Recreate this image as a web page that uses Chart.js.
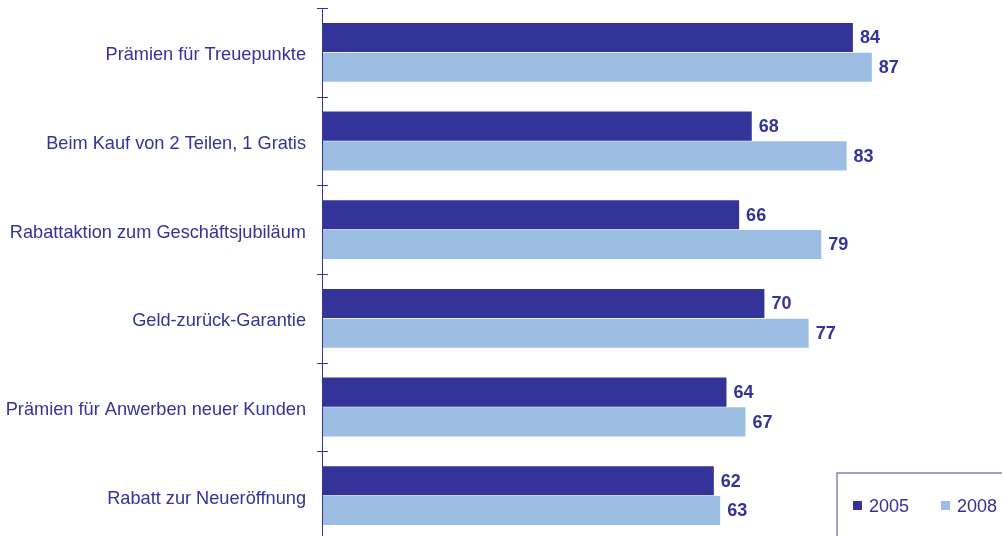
<!DOCTYPE html>
<html>
<head>
<meta charset="utf-8">
<script src="https://cdn.jsdelivr.net/npm/chart.js@4/dist/chart.umd.min.js"></script>
<style>
html,body{margin:0;padding:0;background:#fff;overflow:hidden;}
#wrap{position:relative;width:1002px;height:536px;overflow:hidden;}
#c{display:block;}
</style>
</head>
<body>
<div id="wrap"><canvas id="c" width="1002" height="540"></canvas></div>
<script>
const categories = [
  "Prämien für Treuepunkte",
  "Beim Kauf von 2 Teilen, 1 Gratis",
  "Rabattaktion zum Geschäftsjubiläum",
  "Geld-zurück-Garantie",
  "Prämien für Anwerben neuer Kunden",
  "Rabatt zur Neueröffnung"
];
const seriesNames = ["2005", "2008"];
const values2005 = [84, 68, 66, 70, 64, 62];
const values2008 = [87, 83, 79, 77, 67, 63];

const DARK = "#333399";
const LIGHT = "#9BBEE2";
const TEXT = "#333399";
const FONT = "'Liberation Sans', Arial, sans-serif";

const decorPlugin = {
  id: 'decor',
  afterDatasetsDraw(chart) {
    const ctx = chart.ctx;
    const ca = chart.chartArea;
    const y = chart.scales.y;
    ctx.save();
    ctx.strokeStyle = DARK;
    ctx.lineWidth = 1;
    ctx.beginPath();
    ctx.moveTo(ca.left + 0.5, ca.top);
    ctx.lineTo(ca.left + 0.5, ca.bottom + 2);
    ctx.stroke();
    const n = categories.length;
    const step = (ca.bottom - ca.top) / n;
    ctx.beginPath();
    for (let i = 0; i <= n; i++) {
      const py = Math.round(y.getPixelForValue(i) - step / 2) + 0.5;
      ctx.moveTo(ca.left - 5, py);
      ctx.lineTo(ca.left + 6, py);
    }
    ctx.stroke();
    ctx.fillStyle = TEXT;
    ctx.font = "bold 18px " + FONT;
    ctx.textAlign = "left";
    ctx.textBaseline = "middle";
    chart.data.datasets.forEach((ds, di) => {
      const meta = chart.getDatasetMeta(di);
      meta.data.forEach((bar, i) => {
        ctx.fillText(String(ds.data[i]), bar.x + 7, bar.y + 1);
      });
    });
    ctx.strokeStyle = "#8585B5";
    ctx.lineWidth = 1.5;
    ctx.fillStyle = "#ffffff";
    ctx.beginPath();
    ctx.rect(837, 473, 200, 100);
    ctx.fill();
    ctx.stroke();
    const items = [
      {label: seriesNames[0], color: DARK, x: 853},
      {label: seriesNames[1], color: LIGHT, x: 941}
    ];
    ctx.font = "18px " + FONT;
    ctx.textBaseline = "alphabetic";
    items.forEach(it => {
      ctx.fillStyle = it.color;
      ctx.fillRect(it.x, 501, 9, 9);
      ctx.fillStyle = TEXT;
      ctx.fillText(it.label, it.x + 16, 512);
    });
    ctx.restore();
  }
};

new Chart(document.getElementById('c'), {
  type: 'bar',
  data: {
    labels: categories,
    datasets: [
      {label: seriesNames[0], data: values2005, backgroundColor: DARK, borderWidth: 0,
       categoryPercentage: 0.67, barPercentage: 0.98},
      {label: seriesNames[1], data: values2008, backgroundColor: LIGHT, borderWidth: 0,
       categoryPercentage: 0.67, barPercentage: 0.98}
    ]
  },
  options: {
    indexAxis: 'y',
    responsive: false,
    animation: false,
    devicePixelRatio: 1,
    layout: {padding: {top: 8, right: 48, bottom: 0, left: 0}},
    plugins: {legend: {display: false}, tooltip: {enabled: false}},
    scales: {
      x: {display: false, min: 0, max: 100},
      y: {
        grid: {display: false, drawTicks: false},
        border: {display: false},
        afterFit(scale) { scale.width = 322; scale.paddingTop = 0; scale.paddingBottom = 0; },
        ticks: {
          padding: 16,
          labelOffset: 3,
          color: TEXT,
          font: {family: FONT, size: 18.2}
        }
      }
    }
  },
  plugins: [decorPlugin]
});
</script>
</body>
</html>
